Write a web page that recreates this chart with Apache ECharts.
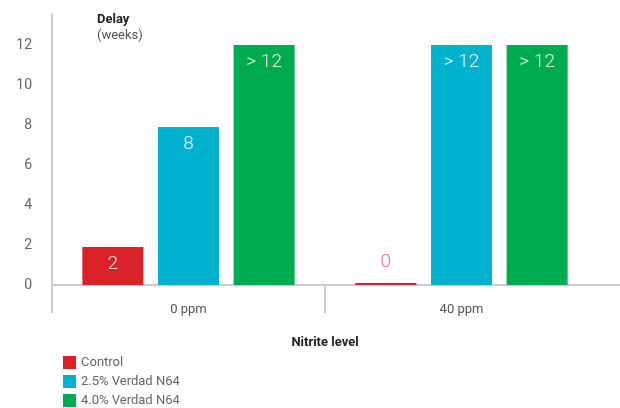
<!DOCTYPE html>
<html>
<head>
<meta charset="utf-8">
<script src="https://cdn.jsdelivr.net/npm/echarts@6/dist/echarts.min.js"></script>
<style>html,body{margin:0;padding:0;background:#fff}#c{width:620px;height:408px}</style>
</head>
<body>
<div id="c"></div>
<script>
var categories = ['0 ppm', '40 ppm'];
var seriesNames = ['Control', '2.5% Verdad N64', '4.0% Verdad N64'];
var controlValues = [1.9, 0.1];
var n25Values = [7.9, 12];
var n40Values = [12, 12];
var controlLabels = ['2', '0'];
var n25Labels = ['8', '> 12'];
var n40Labels = ['> 12', '> 12'];
var yTicks = [0, 2, 4, 6, 8, 10, 12];

var colors = ['#da2128', '#00b2ce', '#00aa4f'];
var FONT = 'Roboto';

function mk(name, vals, labels, color) {
  return {
    name: name, type: 'bar', barWidth: 61, barGap: '24%',
    itemStyle: { color: color },
    data: vals.map(function (v, i) {
      var small = v < 0.5;
      return {
        value: v,
        label: {
          show: true,
          formatter: labels[i],
          position: small ? 'top' : 'insideTop',
          distance: small ? 11 : 8,
          color: small ? '#e8747b' : 'rgba(255,255,255,0.88)',
          fontSize: 19, fontWeight: 300, fontFamily: FONT
        }
      };
    })
  };
}

var chart = echarts.init(document.getElementById('c'));
chart.setOption({
  animation: false,
  color: colors,
  grid: { left: 52, right: 22, top: 14, bottom: 123 },
  title: {
    text: 'Delay', subtext: '(weeks)', left: 92, top: 8, itemGap: 3,
    textStyle: { fontSize: 13, fontWeight: 'bold', color: '#222', fontFamily: FONT },
    subtextStyle: { fontSize: 13, color: '#555', fontFamily: FONT }
  },
  legend: {
    orient: 'vertical', left: 63, top: 356, height: 70, itemWidth: 13, itemHeight: 13, itemGap: 6,
    padding: 0,
    icon: 'rect',
    data: seriesNames,
    textStyle: { fontSize: 13, color: '#666', fontFamily: FONT }
  },
  xAxis: {
    type: 'category', data: categories,
    name: 'Nitrite level', nameLocation: 'middle', nameGap: 51,
    nameTextStyle: { fontSize: 13, fontWeight: 'bold', color: '#222', fontFamily: FONT },
    axisLine: { lineStyle: { color: '#cccccc', width: 2 } },
    axisTick: { show: true, length: 28, interval: 0, lineStyle: { color: '#cccccc', width: 2 } },
    axisLabel: { margin: 18, fontSize: 13, color: '#555', fontFamily: FONT }
  },
  yAxis: {
    type: 'value', min: 0, max: 13.55, interval: 2,
    axisLine: { show: true, lineStyle: { color: '#cccccc', width: 2 } },
    axisTick: { show: false },
    splitLine: { show: false },
    axisLabel: { margin: 20, fontSize: 14, color: '#666', fontFamily: FONT, showMaxLabel: false,
      padding: [0, 0, 8, 0],
      formatter: function (v) { return yTicks.indexOf(v) >= 0 ? String(v) : ''; } }
  },
  graphic: [{
    type: 'rect', shape: { x: 592, y: 284, width: 12, height: 34 },
    style: { fill: '#ffffff' }, z: 100
  }, {
    type: 'line', shape: { x1: 590, y1: 285, x2: 620, y2: 285 },
    style: { stroke: '#cccccc', lineWidth: 2 }, z: 101
  }],
  series: [
    mk(seriesNames[0], controlValues, controlLabels, colors[0]),
    mk(seriesNames[1], n25Values, n25Labels, colors[1]),
    mk(seriesNames[2], n40Values, n40Labels, colors[2])
  ]
});
</script>
</body>
</html>
